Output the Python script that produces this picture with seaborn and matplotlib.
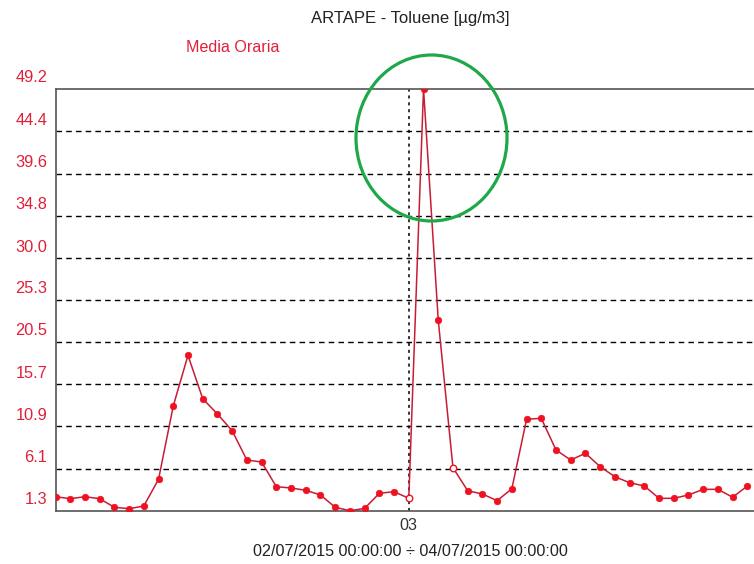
import matplotlib
matplotlib.use("Agg")
import matplotlib.pyplot as plt
import matplotlib.transforms as mtransforms
from matplotlib.patches import Ellipse
import numpy as np
import pandas as pd
import seaborn as sns

# Hourly toluene averages, 02/07/2015 00:00 -> 03/07/2015 23:00
hours = list(range(48))
toluene = [2.92, 2.70, 2.92, 2.70, 1.72, 1.56, 1.87, 4.90, 13.22, 18.97,
           14.05, 12.31, 10.41, 7.09, 6.86, 4.06, 3.91, 3.65, 3.12, 1.72,
           1.33, 1.60, 3.31, 3.49, 2.74, 49.2, 22.98, 6.21, 3.60, 3.23,
           2.47, 3.83, 11.71, 11.82, 8.22, 7.09, 7.85, 6.33, 5.19, 4.51,
           4.14, 2.74, 2.74, 3.12, 3.76, 3.76, 2.86, 4.14]
# hours flagged with hollow markers
flagged = [24, 27]

y_ticks = [1.3, 6.1, 10.9, 15.7, 20.5, 25.3, 30.0, 34.8, 39.6, 44.4, 49.2]
y_tick_labels = ["1.3", "6.1", "10.9", "15.7", "20.5", "25.3", "30.0",
                 "34.8", "39.6", "44.4", "49.2"]
x_ticks = [24]
x_tick_labels = ["03"]

title = "ARTAPE - Toluene [µg/m3]"
series_name = "Media Oraria"
period = "02/07/2015 00:00:00 ÷ 04/07/2015 00:00:00"

df = pd.DataFrame({"hour": hours, "value": toluene})
df["flag"] = df["hour"].isin(flagged)

sns.set_theme(style="white")
plt.rcParams["font.family"] = ["Liberation Sans", "DejaVu Sans"]

W, H = 754, 564
fig = plt.figure(figsize=(W / 100, H / 100), dpi=100)
fig.patch.set_facecolor("white")
ax = fig.add_axes([55.5 / W, (H - 511) / H, 706.6 / W, 422 / H])
ax.set_facecolor("white")

line_red = "#c81c34"
dot_red = "#f01020"
label_red = "#e0203a"

# horizontal dashed grid
for yv in y_ticks[1:-1]:
    ax.axhline(yv, color="black", lw=1.0, ls=(0, (4, 3)), zorder=1)
# midnight marker
ax.axvline(24, color="black", lw=1.1, ls=(0, (2, 2.5)), zorder=1)

sns.lineplot(data=df, x="hour", y="value", ax=ax, color=line_red,
             lw=1.1, zorder=3, legend=False)
sns.scatterplot(data=df[~df["flag"]], x="hour", y="value", ax=ax,
                color=dot_red, s=22, edgecolor=dot_red, linewidth=0.5,
                zorder=4, legend=False)
sns.scatterplot(data=df[df["flag"]], x="hour", y="value", ax=ax,
                color="white", s=22, edgecolor=dot_red, linewidth=1.0,
                zorder=4, legend=False)

ax.set_xlim(0, 48)
ax.set_ylim(1.3, 49.2)
ax.set_xticks(x_ticks)
ax.set_xticklabels(x_tick_labels)
ax.set_yticks(y_ticks)
ax.set_yticklabels(y_tick_labels)
ax.set_xlabel("")
ax.set_ylabel("")

ax.tick_params(axis="y", length=0, pad=6, labelsize=11.8, labelcolor=label_red)
ax.tick_params(axis="x", length=0, pad=5, labelsize=11.6, labelcolor="#333333")

# y labels sit a little above their grid lines
shift = mtransforms.ScaledTranslation(0, 12.5 / 100, fig.dpi_scale_trans)
for lab in ax.get_yticklabels():
    lab.set_transform(lab.get_transform() + shift)

for side in ["left", "bottom", "top"]:
    ax.spines[side].set_color("#555555")
    ax.spines[side].set_linewidth(1.2)
ax.spines["right"].set_visible(False)

fig.text(410 / W, 1 - 18 / H, title, ha="center", va="center",
         fontsize=12, color="#222222")
fig.text(233 / W, 1 - 47 / H, series_name, ha="center", va="center",
         fontsize=11.6, color=label_red)
fig.text(410 / W, 1 - 552 / H, period, ha="center", va="center",
         fontsize=11.6, color="#222222")

# highlight around the peak
ell = Ellipse((431.5 / W, 1 - 138 / H), 151 / W, 166 / H,
              transform=fig.transFigure, fill=False, edgecolor="#1ea84a",
              lw=2.3, zorder=10)
fig.patches.append(ell)

fig.savefig("out.png", dpi=100, facecolor="white")
